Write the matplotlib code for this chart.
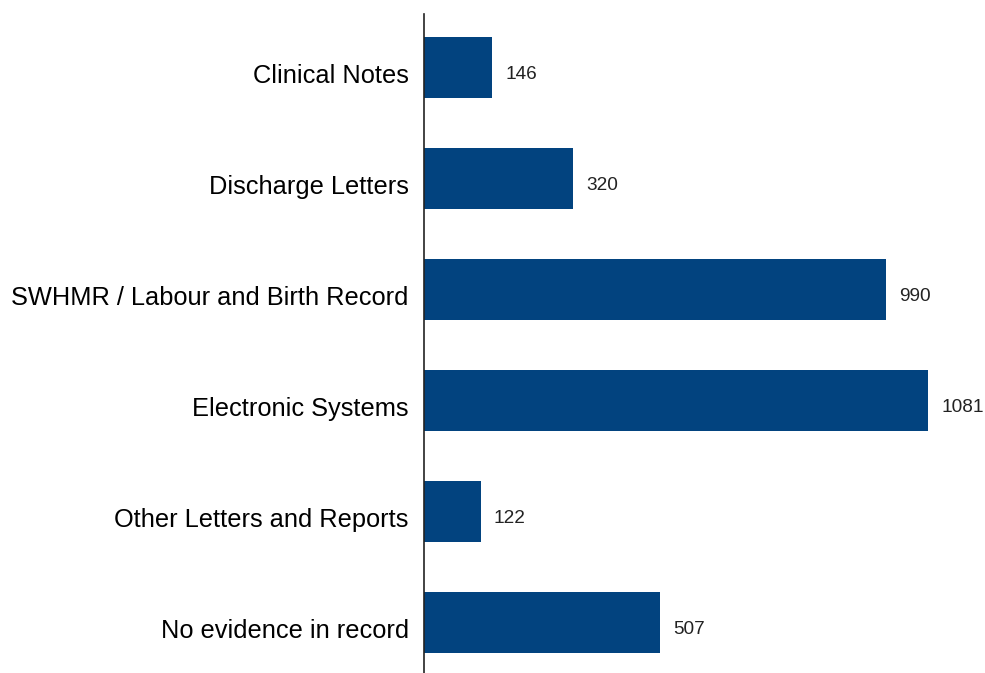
import matplotlib.pyplot as plt

categories = ["Clinical Notes", "Discharge Letters", "SWHMR / Labour and Birth Record",
              "Electronic Systems", "Other Letters and Reports", "No evidence in record"]
counts = [146, 320, 990, 1081, 122, 507]

plt.rcParams['font.family'] = ['Liberation Sans', 'DejaVu Sans']

fig = plt.figure(figsize=(9.85, 6.73), dpi=100)
ax = fig.add_axes([424/985, 0, 561/985, 659/673])

ypos = list(range(len(categories)))[::-1]
ax.barh(ypos, counts, height=0.55, color='#02437f')

# value labels sit a little below the bar centre, as in the original
for y, v in zip(ypos, counts):
    ax.text(v + 28, y - 0.06, str(v), va='center', ha='left', fontsize=13.7, color='#222222')

ax.set_yticks([y - 0.05 for y in ypos])
ax.set_yticklabels(categories, fontsize=18.3)
ax.tick_params(axis='y', length=0, pad=11)
ax.set_xticks([])
ax.set_xlim(0, 1203)
ax.set_ylim(-0.455, 5.482)
for s in ['top', 'right', 'bottom']:
    ax.spines[s].set_visible(False)
ax.spines['left'].set_linewidth(1.2)
ax.spines['left'].set_color('#222222')

fig.savefig('out.png', dpi=100)
